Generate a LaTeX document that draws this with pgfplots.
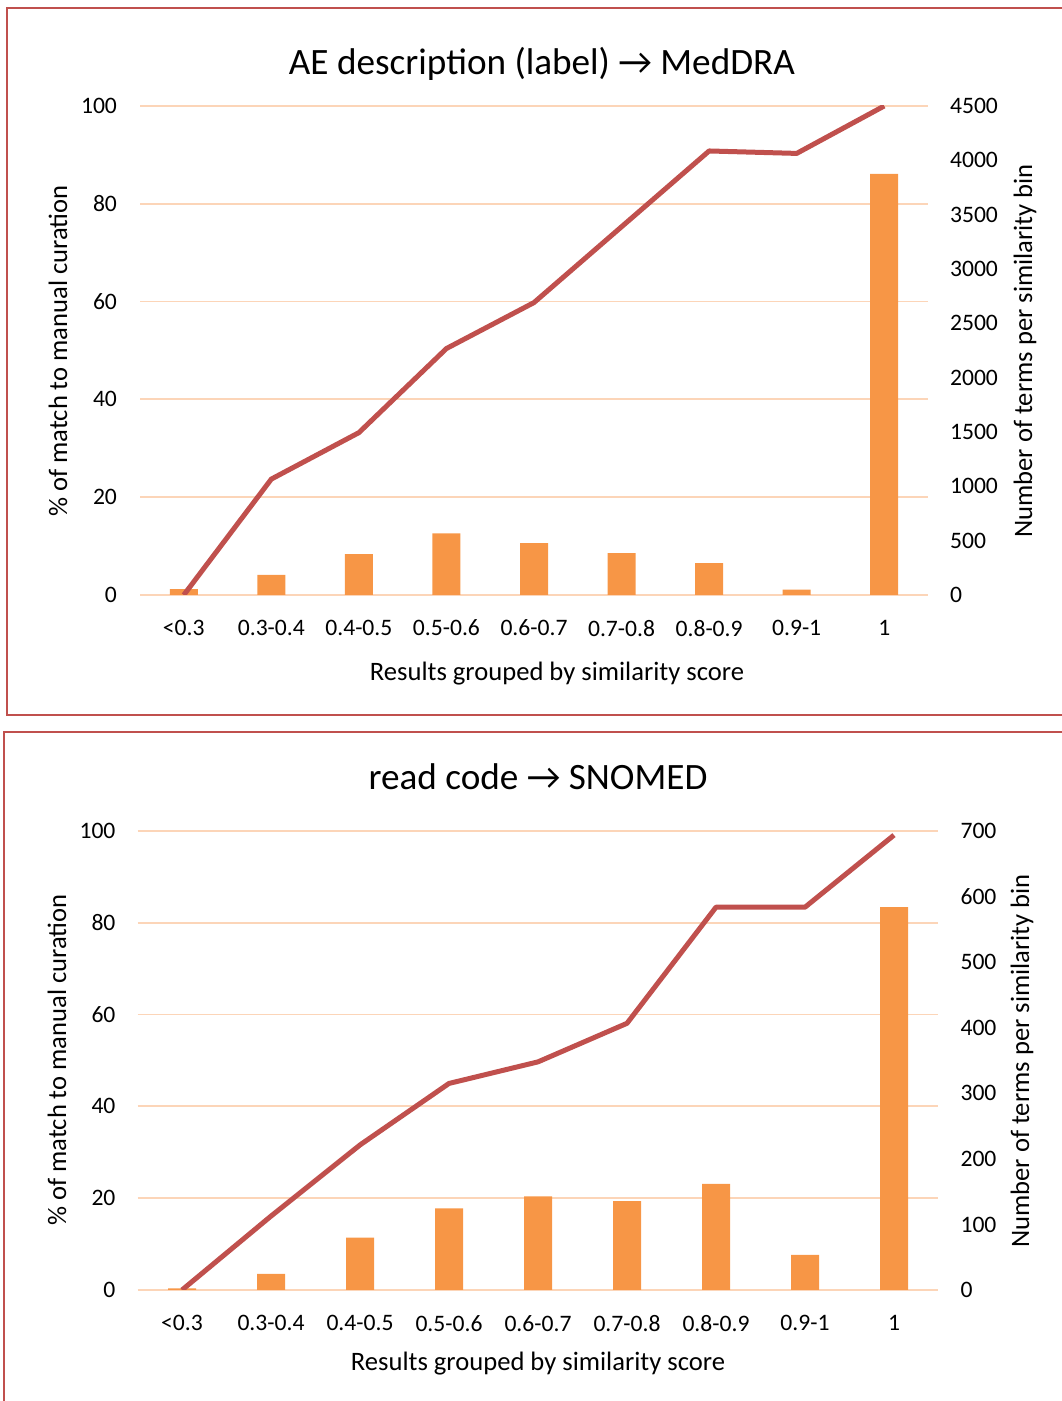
\documentclass[border=0pt]{standalone}
\usepackage{fontspec}
\setmainfont{Carlito}
\usepackage{pgfplots}
\pgfplotsset{compat=1.18}
\definecolor{lnred}{HTML}{C0504D}
\definecolor{barorg}{HTML}{F79646}
\definecolor{gridc}{HTML}{FCD5B8}
\definecolor{txt}{HTML}{000000}
\pgfplotsset{
  base/.style={
    scale only axis,
    xmin=-0.5, xmax=8.5,
    axis line style={draw=none},
    tick style={draw=none},
    /pgf/number format/assume math mode=true,
    /pgf/number format/1000 sep={},
    ticklabel style={font=\fontsize{11.8}{13}\selectfont, text=txt},
  },
}
\begin{document}
\begin{tikzpicture}
\useasboundingbox (0,0) rectangle (530.5pt,700.5pt);
% frames
\draw[lnred, line width=1pt] (536pt,696.5pt) -- (3.5pt,696.5pt) -- (3.5pt,343pt) -- (536pt,343pt);
\draw[lnred, line width=1pt] (536pt,334.5pt) -- (2pt,334.5pt) -- (2pt,-5pt);

% ===== TOP PANEL =====
\begin{axis}[base, at={(70pt,403pt)}, anchor=south west, width=394pt, height=244.5pt,
  ymin=0, ymax=100, ytick={0,20,...,100},
  ymajorgrids, grid style={gridc, line width=0.9pt},
  xtick={0,...,8},
  xticklabels={<0.3,0.3-0.4,0.4-0.5,0.5-0.6,0.6-0.7,0.7-0.8,0.8-0.9,0.9-1,1},
  xticklabel style={yshift=-9pt},
  yticklabel style={xshift=-8pt}]
\end{axis}
\begin{axis}[base, at={(70pt,403pt)}, anchor=south west, width=394pt, height=244.5pt,
  ymin=0, ymax=4500, ytick={0,500,...,4500}, yticklabel pos=right,
  xtick=\empty, yticklabel style={xshift=7.5pt}]
\addplot[ybar, bar width=14pt, fill=barorg, draw=none] coordinates {
 (0,55) (1,184) (2,377) (3,567) (4,478) (5,386) (6,294) (7,49) (8,3875)};
\end{axis}
\begin{axis}[base, hide axis, at={(70pt,403pt)}, anchor=south west, width=394pt, height=244.5pt,
  ymin=0, ymax=100]
\addplot[lnred, line width=2.5pt, line join=round] coordinates {
 (0,0) (1,23.7) (2,33.2) (3,50.4) (4,59.8) (5,75.3) (6,90.8) (7,90.3) (8,100)};
\end{axis}
\node[font=\fontsize{18.6}{21}\selectfont] at (271pt,668.5pt) {AE description (label) → MedDRA};
\node[font=\fontsize{13.3}{15}\selectfont, rotate=90] at (29pt,525pt) {\% of match to manual curation};
\node[font=\fontsize{13.3}{15}\selectfont, rotate=90] at (512.5pt,525pt) {Number of terms per similarity bin};
\node[font=\fontsize{13.3}{15}\selectfont] at (278.5pt,363.5pt) {Results grouped by similarity score};

% ===== BOTTOM PANEL =====
\begin{axis}[base, at={(68.75pt,55.5pt)}, anchor=south west, width=400.5pt, height=229.5pt,
  ymin=0, ymax=100, ytick={0,20,...,100},
  ymajorgrids, grid style={gridc, line width=0.9pt},
  xtick={0,...,8},
  xticklabels={<0.3,0.3-0.4,0.4-0.5,0.5-0.6,0.6-0.7,0.7-0.8,0.8-0.9,0.9-1,1},
  xticklabel style={yshift=-9pt},
  yticklabel style={xshift=-7.5pt}]
\end{axis}
\begin{axis}[base, at={(68.75pt,55.5pt)}, anchor=south west, width=400.5pt, height=229.5pt,
  ymin=0, ymax=700, ytick={0,100,...,700}, yticklabel pos=right,
  xtick=\empty, yticklabel style={xshift=7.5pt}]
\addplot[ybar, bar width=14pt, fill=barorg, draw=none] coordinates {
 (0,2.5) (1,24.4) (2,80) (3,124.6) (4,142.9) (5,135.7) (6,161.7) (7,53.4) (8,584)};
\end{axis}
\begin{axis}[base, hide axis, at={(68.75pt,55.5pt)}, anchor=south west, width=400.5pt, height=229.5pt,
  ymin=0, ymax=100]
\addplot[lnred, line width=2.5pt, line join=round] coordinates {
 (0,0) (1,16.1) (2,31.6) (3,45.0) (4,49.7) (5,58.1) (6,83.4) (7,83.4) (8,99.1)};
\end{axis}
\node[font=\fontsize{18.6}{21}\selectfont] at (269pt,312pt) {read code → SNOMED};
\node[font=\fontsize{13.3}{15}\selectfont, rotate=90] at (28.5pt,170.5pt) {\% of match to manual curation};
\node[font=\fontsize{13.3}{15}\selectfont, rotate=90] at (511pt,170pt) {Number of terms per similarity bin};
\node[font=\fontsize{13.3}{15}\selectfont] at (269pt,18.5pt) {Results grouped by similarity score};
\end{tikzpicture}
\end{document}
